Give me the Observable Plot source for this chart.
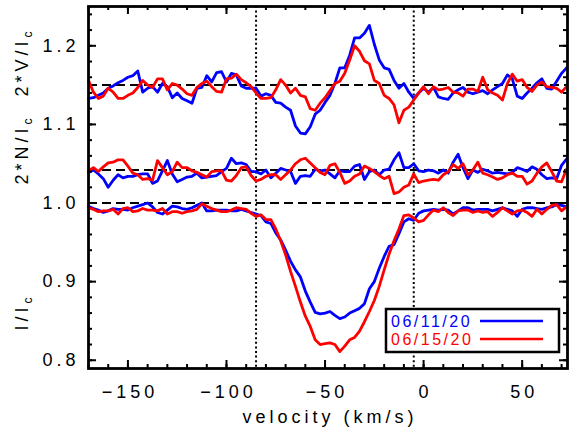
<!DOCTYPE html>
<html><head><meta charset="utf-8">
<script src="https://cdn.jsdelivr.net/npm/d3@7"></script>
<script src="https://cdn.jsdelivr.net/npm/@observablehq/plot@0.6"></script>
<style>html,body{margin:0;padding:0;background:#fff}svg{display:block}</style>
</head><body><div id="chart"></div>
<script>
// ---- data ----
const velocity = [-170,-167.5,-165,-162.5,-160,-157.5,-155,-152.5,-150,-147.5,-145,-142.5,-140,-137.5,-135,-132.5,-130,-127.5,-125,-122.5,-120,-117.5,-115,-112.5,-110,-107.5,-105,-102.5,-100,-97.5,-95,-92.5,-90,-87.5,-85,-82.5,-80,-77.5,-75,-72.5,-70,-67.5,-65,-62.5,-60,-57.5,-55,-52.5,-50,-47.5,-45,-42.5,-40,-37.5,-35,-32.5,-30,-27.5,-25,-22.5,-20,-17.5,-15,-12.5,-10,-7.5,-5,-2.5,0,2.5,5,7.5,10,12.5,15,17.5,20,22.5,25,27.5,30,32.5,35,37.5,40,42.5,45,47.5,50,52.5,55,57.5,60,62.5,65,67.5,70,72.5];

const I_061120 = [0.996,0.993,0.991,0.988,0.990,0.993,0.992,0.992,0.991,0.994,0.996,0.998,1.000,0.995,0.988,0.986,0.991,0.996,0.995,0.993,0.992,0.994,0.997,1.000,0.990,0.990,0.991,0.991,0.991,0.990,0.990,0.992,0.990,0.988,0.986,0.984,0.976,0.974,
0.962,0.953,0.940,0.926,0.915,0.906,0.888,0.874,0.861,0.859,0.860,0.862,0.857,0.853,0.855,0.860,0.863,0.866,0.872,0.891,0.900,0.917,0.932,0.945,0.947,0.961,0.976,0.980,0.978,0.987,0.990,0.991,
0.992,0.991,0.992,0.991,0.986,0.990,0.994,0.994,0.991,0.992,0.992,0.992,0.990,0.992,0.994,0.992,0.990,0.983,0.992,0.994,0.994,0.993,0.992,0.994,0.995,0.998,0.997,0.995];
const I_061520 = [0.994,0.992,0.989,0.990,0.990,0.992,0.986,0.993,0.994,0.989,0.990,0.993,0.991,0.991,0.990,0.993,0.986,0.989,0.989,0.987,0.989,0.990,0.992,0.999,0.996,0.993,0.991,0.989,0.989,0.991,0.994,0.993,0.992,0.987,0.983,0.985,0.979,0.979,
0.967,0.952,0.934,0.913,0.894,0.874,0.856,0.843,0.826,0.820,0.821,0.822,0.820,0.811,0.818,0.826,0.829,0.837,0.849,0.862,0.876,0.894,0.915,0.935,0.952,0.967,0.984,0.985,0.981,0.976,0.978,0.985,
0.991,0.989,0.994,0.988,0.984,0.990,0.991,0.991,0.988,0.990,0.988,0.989,0.983,0.988,0.994,0.990,0.986,0.990,0.991,0.988,0.983,0.992,0.986,0.992,0.997,0.998,0.990,0.995];

const N_061120 = [1.039,1.042,1.037,1.031,1.020,1.029,1.036,1.032,1.034,1.034,1.036,1.037,1.037,1.025,1.028,1.041,1.054,1.037,1.027,1.030,1.033,1.034,1.038,1.032,1.033,1.034,1.035,1.040,1.044,1.057,1.050,1.051,1.049,1.040,1.040,1.037,1.042,1.032,1.038,1.044,1.042,1.040,1.025,1.034,1.035,1.034,1.043,1.041,1.042,
1.037,1.032,1.041,1.040,1.040,1.047,1.049,1.030,1.040,1.042,1.036,1.042,1.043,1.055,1.064,1.045,1.045,1.050,1.041,1.040,1.042,1.041,1.038,1.042,1.038,1.052,1.062,1.045,1.031,1.042,1.039,1.043,1.041,1.038,1.039,1.038,1.037,1.039,1.045,1.043,1.040,1.046,1.043,1.036,1.031,1.032,1.031,1.048,1.056];
const N_061520 = [1.041,1.045,1.040,1.046,1.051,1.052,1.055,1.055,1.047,1.038,1.036,1.030,1.031,1.029,1.054,1.045,1.036,1.040,1.052,1.045,1.045,1.041,1.039,1.036,1.033,1.040,1.041,1.041,1.029,1.028,1.035,1.045,1.046,1.035,1.028,1.030,1.034,1.036,1.036,1.030,1.036,1.042,1.050,1.055,1.057,1.051,1.045,1.039,1.036,
1.048,1.050,1.039,1.025,1.028,1.034,1.037,1.047,1.044,1.040,1.035,1.031,1.034,1.012,1.014,1.020,1.023,1.037,1.026,1.028,1.029,1.030,1.029,1.036,1.040,1.049,1.044,1.050,1.036,1.042,1.052,1.038,1.036,1.033,1.030,1.032,1.036,1.038,1.034,1.034,1.024,1.028,1.038,1.046,1.051,1.040,1.028,1.027,1.043];

const V_061120 = [1.133,1.134,1.137,1.140,1.146,1.149,1.153,1.156,1.160,1.162,1.168,1.141,1.146,1.148,1.141,1.152,1.148,1.134,1.140,1.133,1.130,1.127,1.146,1.147,1.162,1.154,1.166,1.167,1.154,1.165,1.163,1.149,1.146,1.146,1.146,1.136,
1.139,1.137,1.128,1.127,1.122,1.118,1.098,1.089,1.088,1.097,1.113,1.118,1.128,1.137,1.152,1.172,1.172,1.188,1.210,1.210,1.216,1.226,1.202,1.182,1.172,1.170,1.156,1.146,1.152,1.141,1.133,1.140,1.146,
1.141,1.147,1.135,1.133,1.132,1.140,1.144,1.147,1.141,1.139,1.141,1.143,1.139,1.144,1.148,1.152,1.163,1.158,1.136,1.133,1.140,1.146,1.153,1.158,1.146,1.145,1.155,1.165,1.172];
const V_061520 = [1.156,1.141,1.133,1.136,1.146,1.141,1.133,1.133,1.137,1.140,1.147,1.156,1.150,1.147,1.158,1.158,1.144,1.152,1.150,1.145,1.139,1.137,1.147,1.152,1.155,1.148,1.142,1.141,1.158,1.159,1.164,1.157,1.153,1.148,1.140,
1.133,1.133,1.134,1.144,1.157,1.150,1.140,1.146,1.137,1.135,1.120,1.118,1.127,1.134,1.143,1.152,1.155,1.165,1.182,1.200,1.193,1.181,1.177,1.156,1.152,1.137,1.133,1.125,1.102,1.118,1.122,1.131,1.140,1.148,
1.139,1.148,1.144,1.145,1.147,1.141,1.140,1.136,1.145,1.145,1.142,1.160,1.144,1.140,1.137,1.131,1.152,1.164,1.155,1.157,1.147,1.142,1.150,1.154,1.148,1.147,1.146,1.141,1.148];

const dates = ["06/11/20", "06/15/20"];
const dateColors = ["#0000ff", "#ff0000"];
const referenceLevels = [1.0, 1.042, 1.15];
const markerVelocities = [-85, -5];
const xTicks = [-150, -100, -50, 0, 50];
const yTicks = [0.8, 0.9, 1.0, 1.1, 1.2];
const xLabel = "velocity (km/s)";

// ---- build table ----
const seriesList = [
  {date: dates[0], profile: "I", values: I_061120},
  {date: dates[0], profile: "N", values: N_061120},
  {date: dates[0], profile: "V", values: V_061120},
  {date: dates[1], profile: "I", values: I_061520},
  {date: dates[1], profile: "N", values: N_061520},
  {date: dates[1], profile: "V", values: V_061520}
];
const rows = seriesList.flatMap(s => s.values.map((value, i) => ({v: velocity[i], value, date: s.date, key: s.date + s.profile})));

const W = 569, H = 435;
const mL = 88, mR = 2, mT = 6, mB = 67;
const plotW = W - mL - mR, plotH = H - mT - mB;
const xMinor = d3.range(-170, 73, 10);
const yMinor = d3.range(0.80, 1.2401, 0.02);
const FONT = "'Liberation Sans', Arial, Helvetica, sans-serif";

const chart = Plot.plot({
  width: W, height: H,
  marginLeft: mL, marginRight: mR, marginTop: mT, marginBottom: mB,
  style: {fontFamily: FONT, fontSize: "18px", letterSpacing: "4px", background: "#fff", color: "#000"},
  x: {domain: [-170, 73], label: null},
  y: {domain: [0.7895, 1.25], label: null},
  color: {domain: dates, range: dateColors},
  marks: [
    Plot.ruleY(referenceLevels, {stroke: "#000", strokeWidth: 2, strokeDasharray: "9,5"}),
    Plot.ruleX(markerVelocities, {stroke: "#000", strokeWidth: 2, strokeDasharray: "2,2.6"}),
    Plot.line(rows, {x: "v", y: "value", z: "key", stroke: "date", strokeWidth: 2.8, strokeLinejoin: "round"}),
    // inward tick marks on all four sides
    Plot.tickX(xMinor, {x: d => d, insetTop: plotH - 4, strokeWidth: 2}),
    Plot.tickX(xMinor, {x: d => d, insetBottom: plotH - 4, strokeWidth: 2}),
    Plot.tickX(xTicks, {x: d => d, insetTop: plotH - 8, strokeWidth: 2}),
    Plot.tickX(xTicks, {x: d => d, insetBottom: plotH - 8, strokeWidth: 2}),
    Plot.tickY(yMinor, {y: d => d, insetRight: plotW - 4, strokeWidth: 2}),
    Plot.tickY(yMinor, {y: d => d, insetLeft: plotW - 4, strokeWidth: 2}),
    Plot.tickY(yTicks, {y: d => d, insetRight: plotW - 8, strokeWidth: 2}),
    Plot.tickY(yTicks, {y: d => d, insetLeft: plotW - 8, strokeWidth: 2}),
    Plot.frame({stroke: "#000", strokeWidth: 2.8}),
    Plot.axisX(xTicks, {tickSize: 0, tickPadding: 17, fontSize: 18, dx: 2, label: null}),
    Plot.axisY(yTicks, {tickSize: 0, tickPadding: 9, fontSize: 18, tickFormat: d3.format(".1f"), label: null}),
    Plot.text([xLabel], {text: d => d, frameAnchor: "bottom", dy: 54, dx: 2, fontSize: 18})
  ]
});
document.getElementById("chart").appendChild(chart);

// ---- y-axis labels with subscripts, and legend ----
const svg = d3.select(chart);
function yLabel(cy, parts) {
  const t = svg.append("text")
    .attr("transform", `translate(22,${cy}) rotate(-90)`)
    .attr("text-anchor", "middle").attr("dy", "0.35em")
    .attr("font-family", FONT).attr("font-size", 18)
    .attr("fill", "#000").style("letter-spacing", "4px").style("white-space", "pre");
  parts.forEach(([s, sub]) => {
    const ts = t.append("tspan").text(s);
    if (sub) ts.attr("font-size", 12).attr("dy", 4); else if (t.node().childNodes.length > 1) ts.attr("dy", -4);
  });
}
yLabel(312, [["I/I"], ["c", true]]);
yLabel(106, [["2*N/I"], ["c", true], ["  2*V/I"], ["c", true]]);

const lg = svg.append("g").attr("text-anchor", "start");
lg.append("rect").attr("x", 386).attr("y", 309).attr("width", 173).attr("height", 43)
  .attr("fill", "#fff").attr("stroke", "#000").attr("stroke-width", 2.5);
dates.forEach((d, i) => {
  lg.append("text").attr("x", 391).attr("y", 327 + i * 18).text(d)
    .attr("text-anchor", "start")
    .attr("fill", dateColors[i]).attr("font-family", FONT).attr("font-size", 16).style("letter-spacing", "2.5px");
  lg.append("line").attr("x1", 480).attr("x2", 543).attr("y1", 321 + i * 18).attr("y2", 321 + i * 18)
    .attr("stroke", dateColors[i]).attr("stroke-width", 2.5);
});
</script>
</body></html>
